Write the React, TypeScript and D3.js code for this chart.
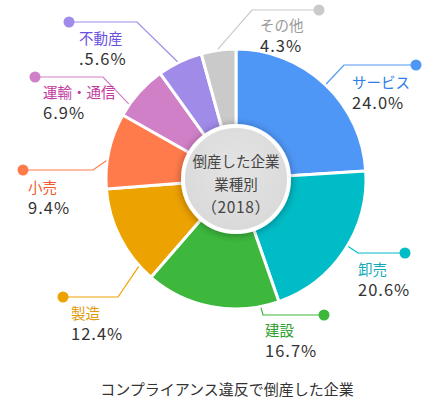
import * as d3 from 'd3';
import { FunctionComponent } from "react";

// chart data
const categories = ["サービス", "卸売", "建設", "製造", "小売", "運輸・通信", "不動産", "その他"];
const shares = [24.0, 20.6, 16.7, 12.4, 9.4, 6.9, 5.6, 4.3];
const shareLabels = ["24.0%", "20.6%", "16.7%", "12.4%", "9.4%", "6.9%", ".5.6%", "4.3%"];
const centerLines = ["倒産した企業", "業種別", "（2018）"];
const caption = "コンプライアンス違反で倒産した企業";

// styling per slice
const sliceColors = ["#4f97f7", "#00bcc6", "#3db83d", "#eca200", "#ff7b4c", "#cf80c7", "#a08be9", "#cacaca"];
const labelColors = ["#2f7cec", "#14a9b9", "#2ba02b", "#e39a0c", "#f35a2c", "#c23ba0", "#6a4fe0", "#9a9a9a"];

// leader layout: anchor angle on the rim (deg), elbow point, dot x, label position
type Leader = { angle: number, elbow: [number, number], dotX: number, label: [number, number] };
const leaders: Leader[] = [
    { angle: 43.5, elbow: [344, 65], dotX: 416, label: [352, 88] },
    { angle: 121, elbow: [358, 253], dotX: 405, label: [358, 275] },
    { angle: 169, elbow: [263, 315], dotX: 324, label: [265, 336] },
    { angle: 228, elbow: [118, 297], dotX: 63, label: [71, 319] },
    { angle: 278, elbow: [93, 170], dotX: 23, label: [28, 193] },
    { angle: 305, elbow: [103, 77], dotX: 35, label: [43, 98] },
    { angle: 333.5, elbow: [137, 22], dotX: 69, label: [79, 44] },
    { angle: 352, elbow: [252, 10], dotX: 319, label: [260, 31] },
];

const width = 440;
const height = 407;
const cx = 236;
const cy = 179;
const outerR = 130;
const holeR = 53;
const font = '"Noto Sans CJK JP", "Noto Sans", sans-serif';

const DonutChart: FunctionComponent = () => {
    const arcs = d3.pie<number>().sort(null).value(d => d)(shares);
    const arc = d3.arc<d3.PieArcDatum<number>>().innerRadius(30).outerRadius(outerR);

    return <svg width={width} height={height} viewBox={`0 0 ${width} ${height}`}
        style={{ position: 'absolute', left: 0, top: 0, background: '#fff' }}>
        <defs>
            <filter id="holeShadow" x="-30%" y="-30%" width="160%" height="160%">
                <feDropShadow dx="0" dy="1" stdDeviation="4" floodColor="#000" floodOpacity="0.35" />
            </filter>
            <radialGradient id="holeFill" cx="50%" cy="40%" r="60%">
                <stop offset="0%" stopColor="#e4e4e4" />
                <stop offset="100%" stopColor="#d9d9d9" />
            </radialGradient>
        </defs>
        <g transform={`translate(${cx},${cy})`}>
            {arcs.map((a, i) =>
                <path key={categories[i]} d={arc(a)!} fill={sliceColors[i]} stroke="#fff" strokeWidth={3} strokeLinejoin="round" />
            )}
            <circle r={holeR} fill="url(#holeFill)" stroke="#fff" strokeWidth={4} filter="url(#holeShadow)" />
            {centerLines.map((t, i) =>
                <text key={t} x={0} y={-17 + i * 23} dy="0.35em" textAnchor="middle"
                    fontFamily={font} fontSize={i === 2 ? 15.5 : 14.5}
                    letterSpacing={i === 2 ? 0.6 : 0} fill="#444">{t}</text>
            )}
        </g>
        {leaders.map((l, i) => {
            const [sx, sy] = d3.pointRadial(l.angle * Math.PI / 180, outerR + 1);
            const pts: [number, number][] = [[cx + sx, cy + sy], l.elbow, [l.dotX, l.elbow[1]]];
            return <g key={categories[i]}>
                <path d={d3.line()(pts)!} fill="none" stroke={sliceColors[i]} strokeWidth={1.2} />
                <circle cx={l.dotX} cy={l.elbow[1]} r={5.5} fill={sliceColors[i]} />
                <text x={l.label[0]} y={l.label[1]} fontFamily={font} fontSize={14.5}
                    fill={labelColors[i]}>{categories[i]}</text>
                <text x={l.label[0]} y={l.label[1] + 21} fontFamily={font} fontSize={16.5}
                    letterSpacing={1} fill="#333">{shareLabels[i]}</text>
            </g>
        })}
        <text x={227} y={395} textAnchor="middle" fontFamily={font} fontSize={15} fill="#333">{caption}</text>
    </svg>
}

export default function App() {
    return <DonutChart />;
}
